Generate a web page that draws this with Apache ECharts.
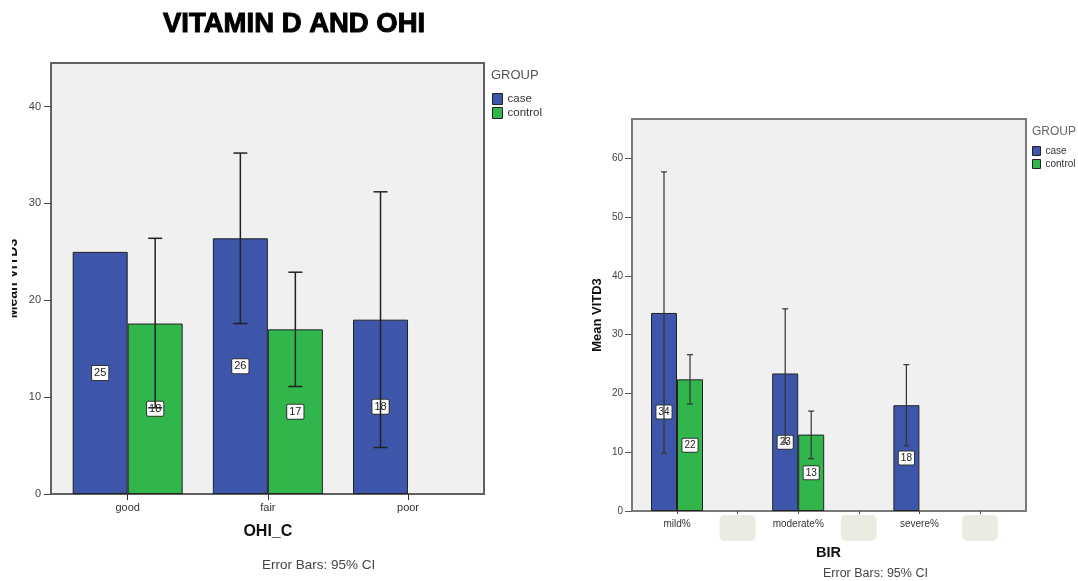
<!DOCTYPE html>
<html><head><meta charset="utf-8">
<script src="https://cdn.jsdelivr.net/npm/echarts@6/dist/echarts.min.js"></script>
<style>html,body{margin:0;padding:0;background:#fff}#c{width:1078px;height:581px}</style>
</head><body><div id="c"></div>
<script>
// ---- data: left chart (OHI_C) ----
const ohiCategories = ['good', 'fair', 'poor'];
const ohiCase = [25.0, 26.4, 18.0];
const ohiControl = [17.6, 17.0, null];
const ohiCaseLow = [null, 17.6, 4.8];
const ohiCaseHigh = [null, 35.2, 31.2];
const ohiControlLow = [8.9, 11.1, null];
const ohiControlHigh = [26.4, 22.9, null];
const ohiYTicks = [0, 10, 20, 30, 40];

// ---- data: right chart (BIR) ----
const birCategories = ['mild%', '', 'moderate%', '', 'severe%', ''];
const birCase = [33.7, null, 23.4, null, 18.0, null];
const birControl = [22.4, null, 13.0, null, null, null];
const birCaseLow = [9.8, null, 11.6, null, 11.1, null];
const birCaseHigh = [57.7, null, 34.4, null, 24.9, null];
const birControlLow = [18.2, null, 8.9, null, null, null];
const birControlHigh = [26.6, null, 17.0, null, null, null];
const birYTicks = [0, 10, 20, 30, 40, 50, 60];

const groups = ['case', 'control'];
const colors = { case: '#3d56a9', control: '#30b64b' };

const FONT = 'Liberation Sans, Arial, sans-serif';
const L_BAR_W = 55, R_BAR_W = 26;

function errData(lows, highs) {
  const out = [];
  lows.forEach((lo, i) => { if (lo != null && highs[i] != null) out.push([i, lo, highs[i]]); });
  return out;
}
function errSeries(name, gi, lows, highs, side, barW, capHalf, color, lw) {
  return {
    type: 'custom', name: name + ' CI', xAxisIndex: gi, yAxisIndex: gi, z: 5, silent: true,
    data: errData(lows, highs),
    encode: { x: 0, y: [1, 2] },
    renderItem: function (params, api) {
      const i = api.value(0);
      const lo = api.coord([i, api.value(1)]);
      const hi = api.coord([i, api.value(2)]);
      const x = lo[0] + side * barW / 2;
      const st = { stroke: color, lineWidth: lw };
      return { type: 'group', children: [
        { type: 'line', shape: { x1: x, y1: hi[1], x2: x, y2: lo[1] }, style: st },
        { type: 'line', shape: { x1: x - capHalf, y1: hi[1], x2: x + capHalf, y2: hi[1] }, style: st },
        { type: 'line', shape: { x1: x - capHalf, y1: lo[1], x2: x + capHalf, y2: lo[1] }, style: st }
      ] };
    }
  };
}
function barSeries(name, gi, values, barW, fs, pad) {
  return {
    type: 'bar', name: name, xAxisIndex: gi, yAxisIndex: gi, z: 2,
    data: values.map(v => v == null ? '-' : v),
    barWidth: barW, barGap: '0%',
    itemStyle: { color: colors[name], borderColor: '#222', borderWidth: 1 },
    label: {
      show: true, position: 'inside', formatter: p => String(Math.round(p.value)),
      backgroundColor: '#fff', borderColor: '#333', borderWidth: 1, borderRadius: 1,
      padding: pad, color: '#222', fontSize: fs, fontFamily: FONT
    }
  };
}

const birAxisData = birCategories.map((c, i) => c === '' ? ' '.repeat(i) : c);

const option = {
  animation: false,
  backgroundColor: '#fff',
  title: [
    { text: 'VITAMIN D AND OHI', left: 163, top: 10, padding: 0,
      textStyle: { fontSize: 27.5, fontWeight: 'bold', fontFamily: FONT, color: '#000', textBorderColor: '#000', textBorderWidth: 1 } },
    { text: 'Error Bars: 95% CI', left: 262, top: 558, padding: 0,
      textStyle: { fontSize: 13.5, fontWeight: 'normal', fontFamily: FONT, color: '#444' } },
    { text: 'Error Bars: 95% CI', left: 823, top: 567, padding: 0,
      textStyle: { fontSize: 12.5, fontWeight: 'normal', fontFamily: FONT, color: '#444' } },
    { text: 'GROUP', left: 491, top: 69, padding: 0,
      textStyle: { fontSize: 13, fontWeight: 'normal', fontFamily: FONT, color: '#555' } },
    { text: 'GROUP', left: 1032, top: 126, padding: 0,
      textStyle: { fontSize: 12, fontWeight: 'normal', fontFamily: FONT, color: '#666' } }
  ],
  legend: [
    { data: groups, orient: 'vertical', left: 492, top: 93, padding: 0, itemGap: 2,
      itemWidth: 10, itemHeight: 11, icon: 'rect', selectedMode: false,
      itemStyle: { borderColor: '#222', borderWidth: 1 },
      textStyle: { fontSize: 11.5, fontFamily: FONT, color: '#333' } },
    { data: groups, orient: 'vertical', left: 1032, top: 146, padding: 0, itemGap: 3,
      itemWidth: 8, itemHeight: 9, icon: 'rect', selectedMode: false,
      itemStyle: { borderColor: '#222', borderWidth: 1 },
      textStyle: { fontSize: 10, fontFamily: FONT, color: '#333' } }
  ],
  grid: [
    { left: 51, top: 63, width: 433, height: 431, show: true, backgroundColor: '#f0f0f0', borderColor: '#606060', borderWidth: 2 },
    { left: 57.6, top: 63, width: 420.5, height: 431, show: false },
    { left: 632, top: 119, width: 394, height: 392, show: true, backgroundColor: '#f0f0f0', borderColor: '#7a7a7a', borderWidth: 2 },
    { left: 646.7, top: 119, width: 363.6, height: 392, show: false }
  ],
  xAxis: [
    { type: 'value', gridIndex: 0, show: false, min: 0, max: 1 },
    { type: 'category', gridIndex: 1, data: ohiCategories,
      name: 'OHI_C', nameLocation: 'middle', nameGap: 30,
      nameTextStyle: { fontSize: 16, fontWeight: 'bold', fontFamily: FONT, color: '#111' },
      axisLine: { show: false },
      axisTick: { show: true, alignWithLabel: true, length: 6, lineStyle: { color: '#333' } },
      axisLabel: { margin: 8, fontSize: 11, fontFamily: FONT, color: '#333' } },
    { type: 'value', gridIndex: 2, show: false, min: 0, max: 1 },
    { type: 'category', gridIndex: 3, data: birAxisData,
      name: 'BIR', nameLocation: 'middle', nameGap: 29,
      nameTextStyle: { fontSize: 14.5, fontWeight: 'bold', fontFamily: FONT, color: '#111' },
      axisLine: { show: false },
      axisTick: { show: true, alignWithLabel: true, length: 3, lineStyle: { color: '#444' } },
      axisLabel: { interval: 0, margin: 4, fontSize: 10, fontFamily: FONT,
        formatter: v => v.trim() === '' ? '{box| }' : '{t|' + v + '}',
        rich: {
          t: { fontSize: 10, color: '#333', fontFamily: FONT, padding: [4, 0, 0, 0] },
          box: { width: 36, height: 26, backgroundColor: '#ecebe2', borderRadius: 5 }
        } } }
  ],
  yAxis: [
    { type: 'value', gridIndex: 0, min: 0, max: 44.5,
      name: 'Mean VITD3', nameLocation: 'middle', nameGap: 31,
      nameTextStyle: { fontSize: 14, fontWeight: 'bold', fontFamily: FONT, color: '#111' },
      axisLine: { show: false }, splitLine: { show: false },
      axisTick: { show: true, length: 7, customValues: ohiYTicks, lineStyle: { color: '#444' } },
      axisLabel: { margin: 10, fontSize: 11, fontFamily: FONT, color: '#444', customValues: ohiYTicks } },
    { type: 'value', gridIndex: 1, min: 0, max: 44.5, show: false },
    { type: 'value', gridIndex: 2, min: 0, max: 66.7,
      name: 'Mean VITD3', nameLocation: 'middle', nameGap: 28,
      nameTextStyle: { fontSize: 13, fontWeight: 'bold', fontFamily: FONT, color: '#111' },
      axisLine: { show: false }, splitLine: { show: false },
      axisTick: { show: true, length: 7, customValues: birYTicks, lineStyle: { color: '#555' } },
      axisLabel: { margin: 9, fontSize: 10, fontFamily: FONT, color: '#444', customValues: birYTicks } },
    { type: 'value', gridIndex: 3, min: 0, max: 66.7, show: false }
  ],
  graphic: [
    { type: 'rect', shape: { x: 0, y: 215, width: 12, height: 130 }, style: { fill: '#fff' }, z: 100 }
  ],
  series: [
    barSeries('case', 1, ohiCase, L_BAR_W, 11, [2, 2, 1, 2]),
    barSeries('control', 1, ohiControl, L_BAR_W, 11, [2, 2, 1, 2]),
    errSeries('case', 1, ohiCaseLow, ohiCaseHigh, -1, L_BAR_W, 7, '#222', 1.5),
    errSeries('control', 1, ohiControlLow, ohiControlHigh, 1, L_BAR_W, 7, '#222', 1.5),
    barSeries('case', 3, birCase, R_BAR_W, 10, [2, 2, 1, 2]),
    barSeries('control', 3, birControl, R_BAR_W, 10, [2, 2, 1, 2]),
    errSeries('case', 3, birCaseLow, birCaseHigh, -1, R_BAR_W, 3, '#333', 1.2),
    errSeries('control', 3, birControlLow, birControlHigh, 1, R_BAR_W, 3, '#333', 1.2)
  ]
};

const chart = echarts.init(document.getElementById('c'), null, { renderer: 'canvas' });
chart.setOption(option);
</script>
</body></html>
